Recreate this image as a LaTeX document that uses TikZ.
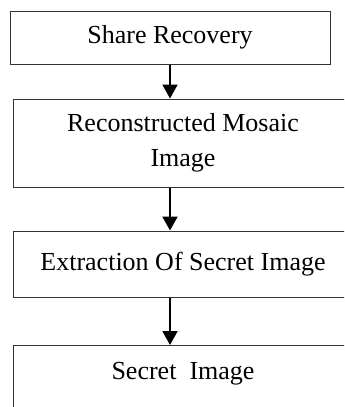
\documentclass[tikz,border=0pt]{standalone}
\usepackage{fontspec}
\setmainfont{Liberation Serif}
\usetikzlibrary{positioning, arrows.meta}

\tikzset{
  stage/.style={draw=black!80, line width=0.5pt, align=center, inner sep=0pt,
    font=\fontsize{13}{17.5}\selectfont},
  flow/.style={-{Triangle[width=7.5pt,length=7pt]}, line width=1pt}
}

\begin{document}
\begin{tikzpicture}[x=0.5pt, y=-0.5pt]
\clip (0,0) rectangle (344,407);

% Stages
\node[stage, minimum width=160pt, minimum height=26.5pt] (share) at (170,37.5) {Share Recovery};
\node[stage, minimum width=170pt, minimum height=44pt] (mosaic) at (183,143) {Reconstructed Mosaic\\Image};
\node[stage, minimum width=170pt, minimum height=33pt] (extract) at (183,264) {Extraction Of Secret Image};
\node[stage, minimum width=170pt, anchor=north, text height=17pt, text depth=25pt] (secret) at (183,345) {Secret\ \ Image};

% Arrows
\draw[flow] (share.south) -- (share.south |- mosaic.north);
\draw[flow] (share.south |- mosaic.south) -- (share.south |- extract.north);
\draw[flow] (share.south |- extract.south) -- (share.south |- secret.north);

\end{tikzpicture}
\end{document}
